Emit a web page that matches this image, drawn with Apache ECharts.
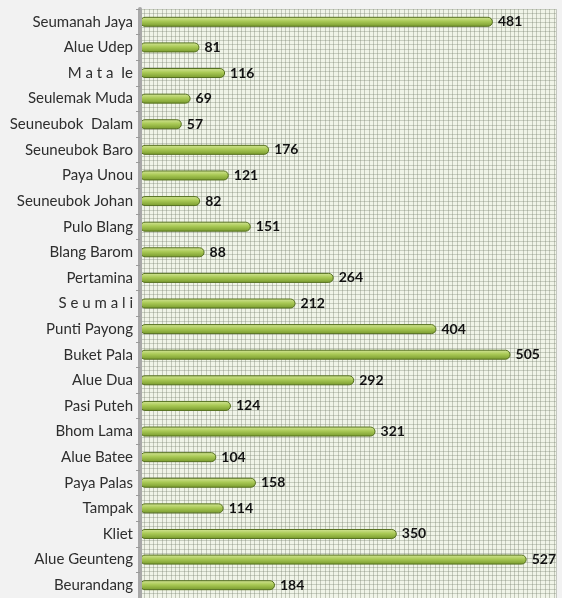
<!DOCTYPE html>
<html><head><meta charset="utf-8">
<script src="https://cdn.jsdelivr.net/npm/echarts@6/dist/echarts.min.js"></script>
<style>html,body{margin:0;padding:0;background:#f2f2f2}#c{width:562px;height:598px}</style>
</head><body><div id="c"></div>
<script>
const categories = ["Seumanah Jaya","Alue Udep","M a t a  Ie","Seulemak Muda","Seuneubok  Dalam","Seuneubok Baro","Paya Unou","Seuneubok Johan","Pulo Blang","Blang Barom","Pertamina","S e u m a l i","Punti Payong","Buket Pala","Alue Dua","Pasi Puteh","Bhom Lama","Alue Batee","Paya Palas","Tampak","Kliet","Alue Geunteng","Beurandang"];
const values = [481,81,116,69,57,176,121,82,151,88,264,212,404,505,292,124,321,104,158,114,350,527,184];

const chart = echarts.init(document.getElementById('c'));
chart.setOption({
  backgroundColor: '#f2f2f2',
  animation: false,
  grid: {left: 140, right: 6, top: 9, bottom: -3, show: true, backgroundColor: '#f0f4e8', borderWidth: 0},
  xAxis: [{type: 'value', min: 0, max: 567, interval: 6, axisLabel: {show: false}, axisTick: {show: false}, axisLine: {show: false},
    splitLine: {show: true, lineStyle: {color: 'rgba(120,130,110,0.38)', width: 1}}}],
  yAxis: [
    {type: 'category', data: categories, inverse: true,
     axisLine: {show: true, lineStyle: {color: '#a8a8a8', width: 4}},
     axisTick: {show: true, length: 4, lineStyle: {color: '#9a9a9a', width: 1}},
     axisLabel: {color: '#2e2e2e', fontFamily: 'Lato', fontSize: 15, margin: 7},
     splitLine: {show: false}, z: 5},
    {type: 'value', min: 0, max: 132, interval: 1, position: 'right', axisLabel: {show: false}, axisTick: {show: false}, axisLine: {show: false},
     splitLine: {show: true, lineStyle: {color: 'rgba(120,130,110,0.34)', width: 1}}}
  ],
  series: [
    {type: 'bar', xAxisIndex: 0, yAxisIndex: 0, data: values, barWidth: 10, z: 3,
     itemStyle: {borderRadius: 5, borderColor: '#55701f', borderWidth: 1,
       color: new echarts.graphic.LinearGradient(0,0,0,1,[{offset:0,color:'#d6e79a'},{offset:0.45,color:'#a9c955'},{offset:1,color:'#76982c'}])},
     label: {show: true, position: 'right', distance: 5, color: '#111', fontWeight: 'bold', fontFamily: 'Lato', fontSize: 14}},
    {type: 'scatter', xAxisIndex: 0, yAxisIndex: 1, data: [], silent: true}
  ]
});
</script></body></html>
